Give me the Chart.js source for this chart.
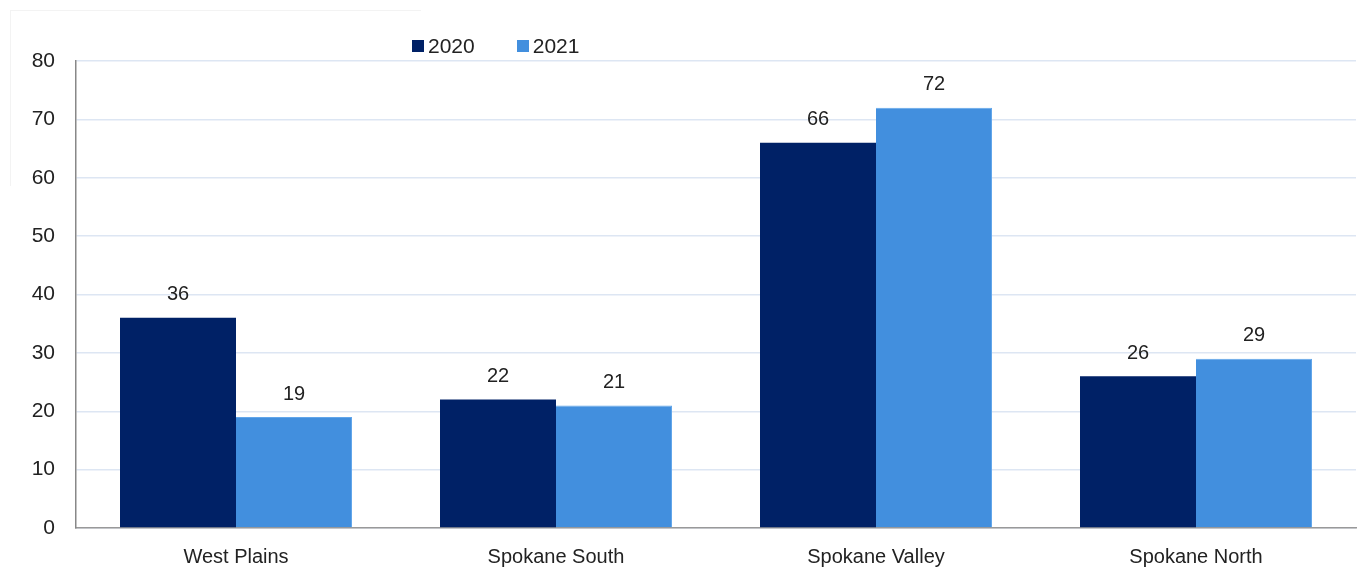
<!DOCTYPE html>
<html>
<head>
<meta charset="utf-8">
<script src="https://cdn.jsdelivr.net/npm/chart.js@4/dist/chart.umd.min.js"></script>
<style>
  html, body { margin: 0; padding: 0; background: #fff; }
  #wrap { position: relative; width: 1359px; height: 568px; }
  #frame { position: absolute; left: 10px; top: 10px; width: 410px; height: 175px;
           border-top: 1px solid #f3f3f3; border-left: 1px solid #f3f3f3; }
  #legend { position: absolute; left: 412px; top: 34px; display: flex;
            font: 21px "Liberation Sans", Arial, sans-serif; color: #222; }
  #legend .item { display: flex; align-items: center; margin-right: 42px; }
  #legend .sw { width: 12px; height: 12px; margin-right: 4px; }
</style>
</head>
<body>
<div id="wrap">
  <div id="frame"></div>
  <canvas id="chart" width="1359" height="568"></canvas>
  <div id="legend"></div>
</div>
<script>
// --- DATA ---
const regions = ['West Plains', 'Spokane South', 'Spokane Valley', 'Spokane North'];
const y2020 = [36, 22, 66, 26];
const y2021 = [19, 21, 72, 29];
const yTicks = [0, 10, 20, 30, 40, 50, 60, 70, 80];

const seriesNames = ['2020', '2021'];
const seriesColors = ['#002166', '#428fde'];

const FONT = '"Liberation Sans", Arial, sans-serif';

// value labels above each bar
const barLabels = {
  id: 'barLabels',
  afterDatasetsDraw(chart) {
    const ctx = chart.ctx;
    ctx.save();
    ctx.font = '20px ' + FONT;
    ctx.fillStyle = '#222';
    ctx.textAlign = 'center';
    ctx.textBaseline = 'middle';
    chart.data.datasets.forEach((ds, i) => {
      chart.getDatasetMeta(i).data.forEach((bar, j) => {
        ctx.fillText(String(ds.data[j]), bar.x, bar.y - 23);
      });
    });
    ctx.restore();
  }
};

const ctx = document.getElementById('chart').getContext('2d');
const chart = new Chart(ctx, {
  type: 'bar',
  data: {
    labels: regions,
    datasets: [
      { label: seriesNames[0], data: y2020, backgroundColor: seriesColors[0], borderWidth: 0 },
      { label: seriesNames[1], data: y2021, backgroundColor: seriesColors[1],
        borderColor: '#62a6ea', borderWidth: { top: 1, left: 0, right: 1, bottom: 0 } }
    ]
  },
  options: {
    responsive: false,
    animation: false,
    layout: { padding: { top: 61, right: 3, left: 0, bottom: 0 } },
    datasets: { bar: { categoryPercentage: 0.725, barPercentage: 1 } },
    plugins: { legend: { display: false }, tooltip: { enabled: false } },
    scales: {
      x: {
        grid: { display: false },
        border: { color: '#999', width: 1.5 },
        ticks: { color: '#222', font: { size: 20, family: FONT }, padding: 9 },
        afterFit: s => { s.height = 40; }
      },
      y: {
        min: 0, max: 80,
        afterBuildTicks: s => { s.ticks = yTicks.map(v => ({ value: v })); },
        grid: { color: '#dde6f3', lineWidth: 1.5, drawTicks: false },
        border: { color: '#888', width: 1.5 },
        ticks: { color: '#222', font: { size: 21, family: FONT }, padding: 21 },
        afterFit: s => { s.width = 76; }
      }
    }
  },
  plugins: [barLabels]
});

// legend from the same series arrays
const legendEl = document.getElementById('legend');
seriesNames.forEach((name, i) => {
  legendEl.innerHTML += `<div class="item"><div class="sw" style="background:${seriesColors[i]}"></div>${name}</div>`;
});
</script>
</body>
</html>
